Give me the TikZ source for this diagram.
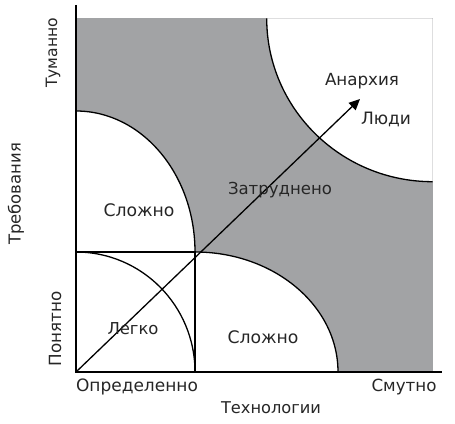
\documentclass[tikz,border=0pt]{standalone}
\usepackage{fontspec}
\setmainfont{DejaVu Sans}
\usetikzlibrary{arrows.meta}
\definecolor{zone}{RGB}{162,163,165}
\newcommand{\fitw}[2]{\resizebox{#1pt}{!}{#2}}
\tikzset{
  line/.style={line width=1.3pt, black},
  lbl/.style={font=\fontsize{16}{20}\selectfont, inner sep=0pt, text=black!85},
}
\begin{document}
\begin{tikzpicture}[x=1pt,y=1pt]
\useasboundingbox (0,0) rectangle (455,423);
% coordinates
\coordinate (O) at (76,51);
\coordinate (ytop) at (76,418);
\coordinate (xend) at (442,51);
\coordinate (M) at (195,171);
\coordinate (Mx) at (195,51);
\coordinate (My) at (76,171);
\coordinate (ULtop) at (76,312);
\coordinate (LRend) at (338,51);
\coordinate (Bstart) at (266.7,404.7);
\coordinate (Bend) at (432.7,241.3);
\coordinate (tip) at (360,324);
% grey zone
\fill[zone] (76,51) rectangle (432.7,404.7);
\fill[white] (Bstart) arc[start angle=180,end angle=270,x radius=166,y radius=163.4] -- (432.7,404.7) -- cycle;
\fill[white] (O) rectangle (M);
\fill[white] (My) -- (ULtop) arc[start angle=90,end angle=0,x radius=119,y radius=141] -- cycle;
\fill[white] (Mx) -- (M) arc[start angle=90,end angle=0,x radius=143,y radius=120] -- cycle;
% lines
\draw[line] (ytop) -- (O) -- (xend);
\draw[line] (Bstart) arc[start angle=180,end angle=270,x radius=166,y radius=163.4];
\draw[line] (ULtop) arc[start angle=90,end angle=0,x radius=119,y radius=141];
\draw[line] (M) arc[start angle=90,end angle=0,x radius=143,y radius=120];
\draw[line] (My) arc[start angle=90,end angle=0,x radius=119,y radius=120];
\draw[line] (My) -- (M) -- (Mx);
\draw[line, -{Triangle[length=11pt,width=10pt]}] (O) -- (tip);
% labels
\node[lbl, rotate=90] (tum) at (53,370) {\fitw{70}{Туманно}};
\node[lbl, rotate=90] (treb) at (16,229) {\fitw{102}{Требования}};
\node[lbl, rotate=90] (pon) at (55,94) {\fitw{75}{Понятно}};
\node[lbl] (opr) at (137,36) {\fitw{122}{Определенно}};
\node[lbl] (smut) at (404,36) {\fitw{65}{Смутно}};
\node[lbl] (tech) at (271,15) {\fitw{100}{Технологии}};
\node[lbl] (anar) at (362,342) {\fitw{74}{Анархия}};
\node[lbl] (ludi) at (386,304) {\fitw{50}{Люди}};
\node[lbl] (zatr) at (280,233) {\fitw{104}{Затруднено}};
\node[lbl] (sl1) at (139,213) {\fitw{71}{Сложно}};
\node[lbl] (sl2) at (263,86) {\fitw{71}{Сложно}};
\node[lbl] (legk) at (133,94) {\fitw{51}{Легко}};
\end{tikzpicture}
\end{document}
